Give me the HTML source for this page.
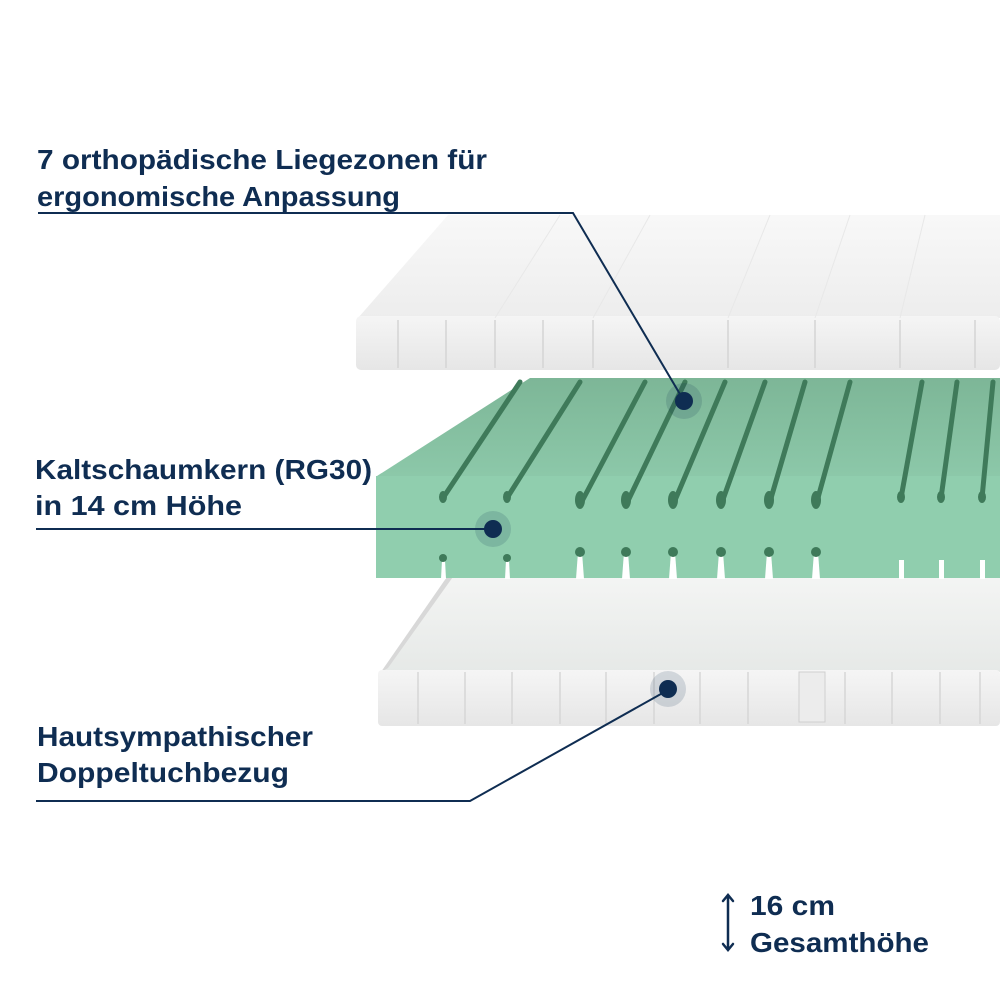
<!DOCTYPE html>
<html><head><meta charset="utf-8"><style>
html,body{margin:0;padding:0;background:#fff;}
svg{display:block}
text{font-family:"Liberation Sans",sans-serif;font-weight:bold;fill:#0f2d52;font-size:28px}
</style></head><body>
<svg width="1000" height="1000" viewBox="0 0 1000 1000">
<defs>
<linearGradient id="tf" x1="0" y1="0" x2="0" y2="1"><stop offset="0" stop-color="#f8f8f8"/><stop offset="1" stop-color="#ededed"/></linearGradient>
<linearGradient id="ff" x1="0" y1="0" x2="0" y2="1"><stop offset="0" stop-color="#f5f5f5"/><stop offset="1" stop-color="#e6e6e6"/></linearGradient>
<linearGradient id="gt" x1="0" y1="0" x2="0" y2="1"><stop offset="0" stop-color="#7db697"/><stop offset="1" stop-color="#8cc8a9"/></linearGradient>
<linearGradient id="bi" x1="0" y1="0" x2="0" y2="1"><stop offset="0" stop-color="#f4f5f4"/><stop offset="1" stop-color="#e6e9e7"/></linearGradient>
</defs>
<!-- bottom cover -->
<polygon points="449,574 1000,574 1000,672 381,672" fill="url(#bi)"/>
<polygon points="449,574 455,574 388,668 381,672" fill="#d8d8d8"/>
<rect x="378" y="670" width="622" height="56" rx="4" fill="url(#ff)"/>
<g stroke="#d6d6d6" stroke-width="1.5">
<line x1="418" y1="672" x2="418" y2="724"/><line x1="465" y1="672" x2="465" y2="724"/><line x1="512" y1="672" x2="512" y2="724"/><line x1="560" y1="672" x2="560" y2="724"/><line x1="606" y1="672" x2="606" y2="724"/><line x1="654" y1="672" x2="654" y2="724"/><line x1="700" y1="672" x2="700" y2="724"/><line x1="748" y1="672" x2="748" y2="724"/><line x1="845" y1="672" x2="845" y2="724"/><line x1="892" y1="672" x2="892" y2="724"/><line x1="940" y1="672" x2="940" y2="724"/><line x1="980" y1="672" x2="980" y2="724"/>
</g>
<rect x="799" y="672" width="26" height="50" fill="#ececec" stroke="#cfcfcf"/>
<!-- foam -->
<polygon points="377,476 530,378 1000,378 1000,476" fill="url(#gt)"/>
<rect x="376" y="476" width="624" height="102" fill="#90ceae"/>
<g stroke="#3f7a5a" stroke-width="5" stroke-linecap="round">
<line x1="443" y1="498" x2="520" y2="382"/><line x1="507" y1="498" x2="580" y2="382"/><line x1="580" y1="505" x2="645" y2="382"/><line x1="626" y1="505" x2="685" y2="382"/><line x1="673" y1="505" x2="725" y2="382"/><line x1="721" y1="505" x2="765" y2="382"/><line x1="769" y1="505" x2="805" y2="382"/><line x1="816" y1="505" x2="850" y2="382"/><line x1="901" y1="498" x2="922" y2="382"/><line x1="941" y1="498" x2="957" y2="382"/><line x1="982" y1="498" x2="993" y2="382"/>
</g>
<g fill="#3f7a5a">
<ellipse cx="443" cy="497" rx="4" ry="6"/><ellipse cx="507" cy="497" rx="4" ry="6"/><ellipse cx="580" cy="500" rx="5" ry="9"/><ellipse cx="626" cy="500" rx="5" ry="9"/><ellipse cx="673" cy="500" rx="5" ry="9"/><ellipse cx="721" cy="500" rx="5" ry="9"/><ellipse cx="769" cy="500" rx="5" ry="9"/><ellipse cx="816" cy="500" rx="5" ry="9"/><ellipse cx="901" cy="497" rx="4" ry="6"/><ellipse cx="941" cy="497" rx="4" ry="6"/><ellipse cx="982" cy="497" rx="4" ry="6"/>
</g>
<g fill="#ffffff">
<polygon points="441,579 446,579 445,560 442,560"/><polygon points="505,579 510,579 509,560 506,560"/><polygon points="576,579 584,579 582,552 578,552"/><polygon points="622,579 630,579 628,552 624,552"/><polygon points="669,579 677,579 675,552 671,552"/><polygon points="717,579 725,579 723,552 719,552"/><polygon points="765,579 773,579 771,552 767,552"/><polygon points="812,579 820,579 818,552 814,552"/><rect x="899" y="560" width="5" height="19"/><rect x="939" y="560" width="5" height="19"/><rect x="980" y="560" width="5" height="19"/>
</g>
<g fill="#3f7a5a"><circle cx="443" cy="558" r="4"/><circle cx="507" cy="558" r="4"/><circle cx="580" cy="552" r="5"/><circle cx="626" cy="552" r="5"/><circle cx="673" cy="552" r="5"/><circle cx="721" cy="552" r="5"/><circle cx="769" cy="552" r="5"/><circle cx="816" cy="552" r="5"/></g>
<!-- top mattress -->
<polygon points="358,318 448,215 1000,215 1000,318" fill="url(#tf)"/>
<rect x="356" y="316" width="644" height="54" rx="5" fill="url(#ff)"/>
<g stroke="#d4d4d4" stroke-width="1.5">
<line x1="398" y1="320" x2="398" y2="368"/><line x1="446" y1="320" x2="446" y2="368"/><line x1="495" y1="320" x2="495" y2="368"/><line x1="543" y1="320" x2="543" y2="368"/><line x1="593" y1="320" x2="593" y2="368"/><line x1="728" y1="320" x2="728" y2="368"/><line x1="815" y1="320" x2="815" y2="368"/><line x1="900" y1="320" x2="900" y2="368"/><line x1="975" y1="320" x2="975" y2="368"/>
</g>
<g stroke="#e8e8e8" stroke-width="1"><line x1="495" y1="318" x2="560" y2="215"/><line x1="593" y1="318" x2="650" y2="215"/><line x1="728" y1="318" x2="770" y2="215"/><line x1="815" y1="318" x2="850" y2="215"/><line x1="900" y1="318" x2="925" y2="215"/></g>
<!-- callouts -->
<g stroke="#0f2d52" stroke-width="2" fill="none">
<polyline points="38,213 573,213 684,401"/>
<line x1="36" y1="529" x2="493" y2="529"/>
<polyline points="36,801 470,801 668,690"/>
</g>
<g fill="#0f2d52">
<circle cx="684" cy="401" r="18" fill-opacity="0.15"/><circle cx="684" cy="401" r="9"/>
<circle cx="493" cy="529" r="18" fill-opacity="0.15"/><circle cx="493" cy="529" r="9"/>
<circle cx="668" cy="689" r="18" fill-opacity="0.15"/><circle cx="668" cy="689" r="9"/>
</g>
<text x="37" y="169" textLength="450" lengthAdjust="spacingAndGlyphs">7 orthopädische Liegezonen für</text>
<text x="37" y="206" textLength="363" lengthAdjust="spacingAndGlyphs">ergonomische Anpassung</text>
<text x="35" y="479" textLength="337" lengthAdjust="spacingAndGlyphs">Kaltschaumkern (RG30)</text>
<text x="35" y="515" textLength="207" lengthAdjust="spacingAndGlyphs">in 14 cm Höhe</text>
<text x="37" y="746" textLength="276" lengthAdjust="spacingAndGlyphs">Hautsympathischer</text>
<text x="37" y="782" textLength="252" lengthAdjust="spacingAndGlyphs">Doppeltuchbezug</text>
<text x="750" y="915" textLength="85" lengthAdjust="spacingAndGlyphs">16 cm</text>
<text x="750" y="952" textLength="179" lengthAdjust="spacingAndGlyphs">Gesamthöhe</text>
<g stroke="#0f2d52" stroke-width="2.5" fill="none" stroke-linecap="round">
<line x1="728" y1="896" x2="728" y2="949"/><polyline points="723,901 728,895 733,901"/><polyline points="723,944 728,950 733,944"/>
</g>
</svg>
</body></html>
